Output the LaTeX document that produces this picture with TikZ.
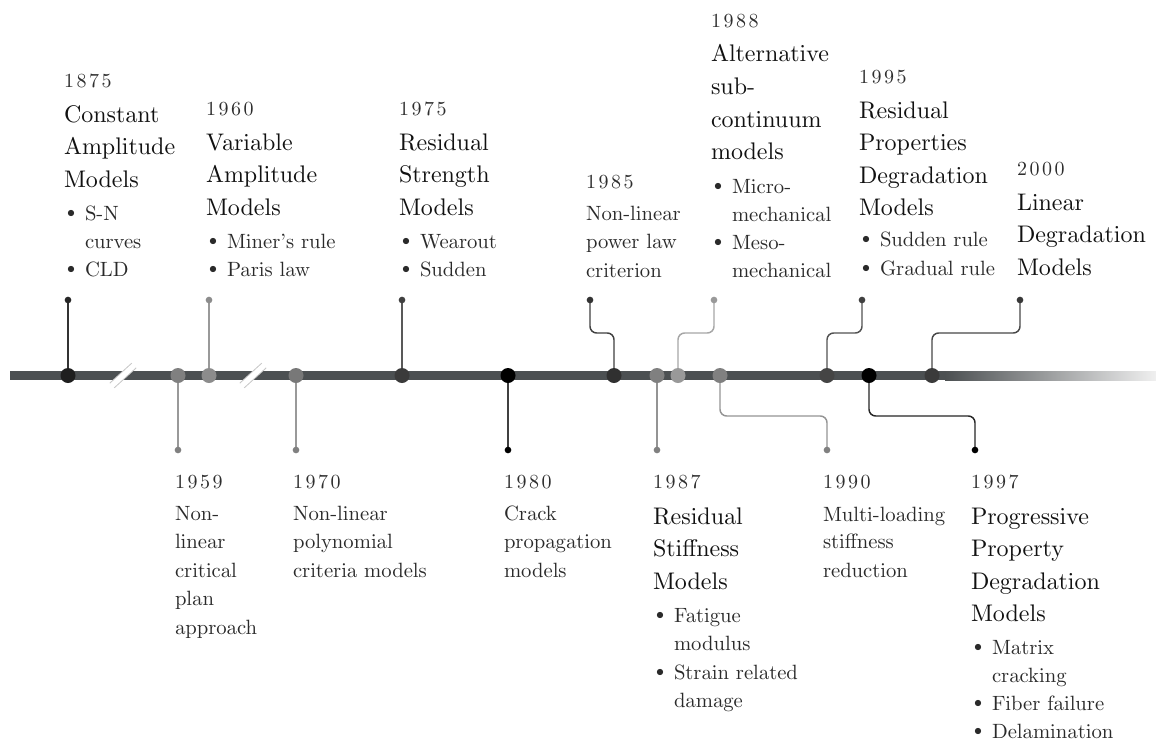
\documentclass[tikz,border=0pt]{standalone}
\usetikzlibrary{calc}
\newdimen\pxu \pxu=0.75pt
\font\yrfont=cmr10 at 15pt
\font\ttlfont=cmr10 at 18pt
\font\itfont=cmr10 at 15.5pt
\font\bulfont=cmsy10 at 12pt
\definecolor{yrcol}{HTML}{2E2E2E}
\definecolor{ttlcol}{HTML}{111111}
\definecolor{itcol}{HTML}{2A2A2A}
\definecolor{linecol}{HTML}{4C5052}
\newcommand\yk{\kern2.5\pxu}
\newcommand\Yr[1]{\hbox{\color{yrcol}\yrfont #1}}
\newcommand\Ti[2]{\baselineskip=#1\pxu\hbox{\color{ttlcol}\ttlfont #2}}
\newcommand\De[2]{\baselineskip=#1\pxu\hbox{\color{itcol}\itfont #2}}
\newcommand\Bu[2]{\baselineskip=#1\pxu\hbox{\color{itcol}\hbox to 21\pxu{\kern3\pxu\raise3\pxu\hbox{\bulfont\char15}\hss}\itfont #2}}
\newcommand\Co[2]{\baselineskip=#1\pxu\hbox{\color{itcol}\kern21\pxu\itfont #2}}
\newcommand\Blk[1]{\vtop{\lineskiplimit=-\maxdimen\lineskip=0pt\parskip=0pt #1}}
\tikzset{
  txt/.style={anchor=base west, inner sep=0pt, outer sep=0pt},
  mdot/.style={circle, inner sep=0pt, minimum size=11.25pt, draw=none},
  edot/.style={circle, inner sep=0pt, minimum size=5pt, draw=none},
  conn/.style={line width=1.1pt, rounded corners=5pt},
}
\begin{document}
\begin{tikzpicture}[x=0.75pt, y=-0.75pt]
\useasboundingbox[fill=white] (0,0) rectangle (1156,743);

% centres on the time line
\foreach \n/\x in {1875/68,1959/178,1960/209,1970/296,1975/402,1980/508,1985/614,1987/657,1988/678,1990/720,1995/827,1997/869,2000/932}
  \coordinate (d\n) at (\x,375.5);
\foreach \n/\x in {1875/68,1960/209,1975/402,1985/590,1988/714,1995/862,2000/1020}
  \coordinate (e\n) at (\x,300);
\foreach \n/\x in {1959/178,1970/296,1980/508,1987/657,1990/827,1997/975}
  \coordinate (e\n) at (\x,450);
\coordinate (lstart) at (10,375.5);
\coordinate (lfade) at (945,375.5);
\coordinate (lend) at (1156,375.5);
\coordinate (bk1) at (123,375.5);
\coordinate (bk2) at (253,375.5);

% main line
\draw[line width=6.75pt, linecol] (lstart) -- (lfade);
\shade[left color=linecol, right color=black!6] (945,371) rectangle (1156,380);

% breaks
\foreach \b in {bk1,bk2}{
  \draw[line width=5.5pt, black!22] ($(\b)+(-11,10)$) -- ($(\b)+(11,-10)$);
  \draw[line width=4pt, white] ($(\b)+(-11.5,10.5)$) -- ($(\b)+(11.5,-10.5)$);
}

% connectors
\draw[conn, black!80] (e1875) -- (d1875);
\draw[conn, black!40] (e1960) -- (d1960);
\draw[conn, black!65] (e1975) -- (d1975);
\draw[conn, black!40] (e1959) -- (d1959);
\draw[conn, black!40] (e1970) -- (d1970);
\draw[conn, black!75] (e1980) -- (d1980);
\draw[conn, black!42] (e1987) -- (d1987);
\draw[conn, black!75] (e1985) -- ++(0,33) -| (d1985);
\draw[conn, black!35] (e1988) -- ++(0,33) -| (d1988);
\draw[conn, black!68] (e1995) -- ++(0,33) -| (d1995);
\draw[conn, black!72] (e2000) -- ++(0,33) -| (d2000);
\draw[conn, black!42] (e1990) -- ++(0,-34) -| (d1990);
\draw[conn, black!85] (e1997) -- ++(0,-34) -| (d1997);

% dots on the line
\node[mdot, fill=black!88] (n1875) at (d1875) {};
\node[mdot, fill=black!50] (n1959) at (d1959) {};
\node[mdot, fill=black!45] (n1960) at (d1960) {};
\node[mdot, fill=black!53] (n1970) at (d1970) {};
\node[mdot, fill=black!77] (n1975) at (d1975) {};
\node[mdot, fill=black] (n1980) at (d1980) {};
\node[mdot, fill=black!81] (n1985) at (d1985) {};
\node[mdot, fill=black!50] (n1987) at (d1987) {};
\node[mdot, fill=black!40] (n1988) at (d1988) {};
\node[mdot, fill=black!50] (n1990) at (d1990) {};
\node[mdot, fill=black!73] (n1995) at (d1995) {};
\node[mdot, fill=black] (n1997) at (d1997) {};
\node[mdot, fill=black!77] (n2000) at (d2000) {};

% end dots
\node[edot, fill=black!85] (m1875) at (e1875) {};
\node[edot, fill=black!45] (m1960) at (e1960) {};
\node[edot, fill=black!75] (m1975) at (e1975) {};
\node[edot, fill=black!80] (m1985) at (e1985) {};
\node[edot, fill=black!40] (m1988) at (e1988) {};
\node[edot, fill=black!75] (m1995) at (e1995) {};
\node[edot, fill=black!78] (m2000) at (e2000) {};
\node[edot, fill=black!50] (m1959) at (e1959) {};
\node[edot, fill=black!50] (m1970) at (e1970) {};
\node[edot, fill=black] (m1980) at (e1980) {};
\node[edot, fill=black!50] (m1987) at (e1987) {};
\node[edot, fill=black!50] (m1990) at (e1990) {};
\node[edot, fill=black] (m1997) at (e1997) {};

% texts above
\node[txt] (t1875) at (64,87) {\Blk{\Yr{1\yk8\yk7\yk5}\Ti{35}{Constant}\Ti{32.5}{Amplitude}\Ti{32.5}{Models}\Bu{33}{S-N}\Co{28}{curves}\Bu{28}{CLD}}};
\node[txt] (t1960) at (206,115) {\Blk{\Yr{1\yk9\yk6\yk0}\Ti{35}{Variable}\Ti{32.5}{Amplitude}\Ti{32.5}{Models}\Bu{33}{Miner's rule}\Bu{28}{Paris law}}};
\node[txt] (t1975) at (399,115) {\Blk{\Yr{1\yk9\yk7\yk5}\Ti{35}{Residual}\Ti{32.5}{Strength}\Ti{32.5}{Models}\Bu{33}{Wearout}\Bu{28}{Sudden}}};
\node[txt] (t1985) at (586,188) {\Blk{\Yr{1\yk9\yk8\yk5}\De{32}{Non-linear}\De{28.5}{power law}\De{28.5}{criterion}}};
\node[txt] (t1988) at (711,27) {\Blk{\Yr{1\yk9\yk8\yk8}\Ti{34}{Alternative}\Ti{33}{sub-}\Ti{33}{continuum}\Ti{32}{models}\Bu{34}{Micro-}\Co{28}{mechanical}\Bu{28}{Meso-}\Co{28.5}{mechanical}}};
\node[txt] (t1995) at (859,83) {\Blk{\Yr{1\yk9\yk9\yk5}\Ti{35}{Residual}\Ti{32.5}{Properties}\Ti{32.5}{Degradation}\Ti{32.5}{Models}\Bu{31}{Sudden rule}\Bu{29}{Gradual rule}}};
\node[txt] (t2000) at (1017,175) {\Blk{\Yr{2\yk0\yk0\yk0}\Ti{35}{Linear}\Ti{32.5}{Degradation}\Ti{32.5}{Models}}};

% texts below
\node[txt] (t1959) at (175,488) {\Blk{\Yr{1\yk9\yk5\yk9}\De{32}{Non-}\De{28.5}{linear}\De{28.5}{critical}\De{28.5}{plan}\De{28.5}{approach}}};
\node[txt] (t1970) at (293,488) {\Blk{\Yr{1\yk9\yk7\yk0}\De{32}{Non-linear}\De{28.5}{polynomial}\De{28.5}{criteria models}}};
\node[txt] (t1980) at (504,488) {\Blk{\Yr{1\yk9\yk8\yk0}\De{32}{Crack}\De{28.5}{propagation}\De{28.5}{models}}};
\node[txt] (t1987) at (653,488) {\Blk{\Yr{1\yk9\yk8\yk7}\Ti{36}{Residual}\Ti{32.5}{Stiffness}\Ti{32.5}{Models}\Bu{33}{Fatigue}\Co{28.5}{modulus}\Bu{28.5}{Strain related}\Co{28.5}{damage}}};
\node[txt] (t1990) at (823,488) {\Blk{\Yr{1\yk9\yk9\yk0}\De{33}{Multi-loading}\De{27.5}{stiffness}\De{28.5}{reduction}}};
\node[txt] (t1997) at (971,488) {\Blk{\Yr{1\yk9\yk9\yk7}\Ti{36}{Progressive}\Ti{32.5}{Property}\Ti{32.5}{Degradation}\Ti{32.5}{Models}\Bu{33}{Matrix}\Co{28}{cracking}\Bu{28}{Fiber failure}\Bu{28}{Delamination}}};
\end{tikzpicture}
\end{document}
